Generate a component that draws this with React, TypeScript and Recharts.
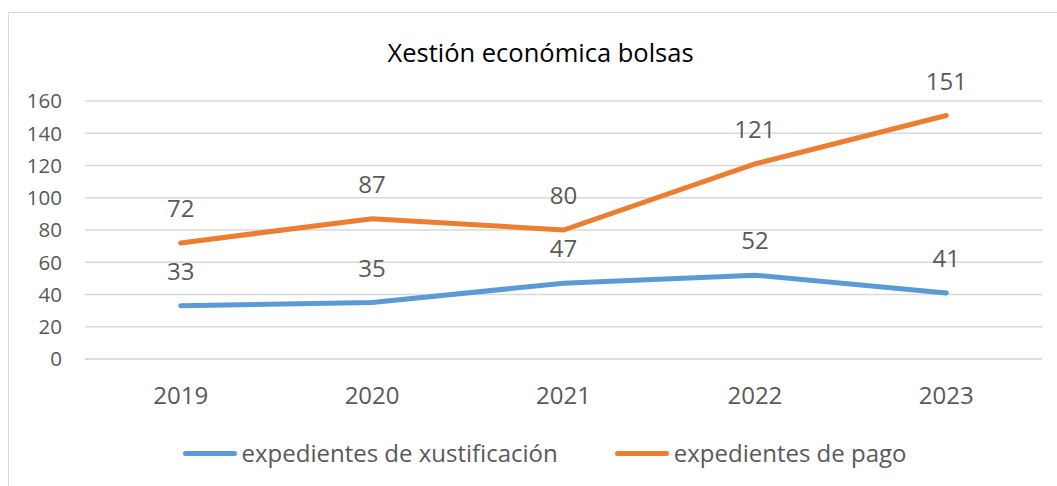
import React from 'react';
import { LineChart, Line, XAxis, YAxis, CartesianGrid, Legend, LabelList } from 'recharts';

const years = ['2019', '2020', '2021', '2022', '2023'];
const xustificacion = [33, 35, 47, 52, 41];
const pago = [72, 87, 80, 121, 151];
const yTicks = [0, 20, 40, 60, 80, 100, 120, 140, 160];

const data = years.map((year, i) => ({
  year,
  xustificacion: xustificacion[i],
  pago: pago[i],
}));

const FONT = '"Open Sans", sans-serif';
const TEXT = '#595959';
const GRID = '#D9D9D9';
const BLUE = '#5B9BD5';
const ORANGE = '#ED7D31';

const legendItems = [
  { name: 'expedientes de xustificación', color: BLUE },
  { name: 'expedientes de pago', color: ORANGE },
];

const LegendContent = () => (
  <div style={{ display: 'flex', justifyContent: 'center', alignItems: 'center', fontFamily: FONT }}>
    {legendItems.map((it, i) => (
      <div key={it.name} style={{ display: 'flex', alignItems: 'center', marginLeft: i === 0 ? 0 : 57 }}>
        <div style={{ width: 54, height: 5, borderRadius: 3, background: it.color, marginRight: 5 }} />
        <span style={{ fontSize: 24, color: TEXT, lineHeight: '32px' }}>{it.name}</span>
      </div>
    ))}
  </div>
);

export default function App() {
  return (
    <div style={{ position: 'absolute', left: 0, top: 0, width: 1057, height: 486, background: '#fff' }}>
      <div
        style={{
          position: 'absolute',
          left: 8,
          top: 12,
          width: 1049,
          height: 474,
          borderTop: `1px solid ${GRID}`,
          borderLeft: `1px solid ${GRID}`,
          boxSizing: 'border-box',
        }}
      />
      <div
        style={{
          position: 'absolute',
          left: 12,
          top: 35,
          width: 1057,
          textAlign: 'center',
          fontFamily: FONT,
          fontSize: 25.5,
          color: '#000',
          lineHeight: 'normal',
        }}
      >
        Xestión económica bolsas
      </div>
      <div style={{ position: 'absolute', left: 0, top: 0 }}>
        <LineChart
          width={1057}
          height={486}
          data={data}
          margin={{ top: 101, right: 15, bottom: 67, left: 0 }}
        >
          <CartesianGrid vertical={false} stroke={GRID} strokeWidth={1.5} />
          <XAxis
            dataKey="year"
            padding={{ left: 95.7, right: 95.7 }}
            height={60}
            tickLine={false}
            tickSize={0}
            tickMargin={28}
            axisLine={{ stroke: GRID, strokeWidth: 1.5 }}
            tick={{ fill: TEXT, fontSize: 24, fontFamily: FONT }}
          />
          <YAxis
            width={85}
            domain={[0, 160]}
            ticks={yTicks}
            interval={0}
            tickLine={false}
            tickSize={0}
            tickMargin={23}
            axisLine={false}
            tick={{ fill: TEXT, fontSize: 20.5, fontFamily: FONT }}
          />
          <Legend
            layout="horizontal"
            verticalAlign="middle"
            align="center"
            content={<LegendContent />}
            wrapperStyle={{ top: 437, left: 16, width: 1057 }}
          />
          <Line
            type="linear"
            dataKey="xustificacion"
            name="expedientes de xustificación"
            stroke={BLUE}
            strokeWidth={5}
            strokeLinecap="round"
            dot={false}
            activeDot={false}
            isAnimationActive={false}
          >
            <LabelList dataKey="xustificacion" position="top" offset={26} fill={TEXT} fontSize={24} fontFamily={FONT} />
          </Line>
          <Line
            type="linear"
            dataKey="pago"
            name="expedientes de pago"
            stroke={ORANGE}
            strokeWidth={5}
            strokeLinecap="round"
            dot={false}
            activeDot={false}
            isAnimationActive={false}
          >
            <LabelList dataKey="pago" position="top" offset={26} fill={TEXT} fontSize={24} fontFamily={FONT} />
          </Line>
        </LineChart>
      </div>
    </div>
  );
}
